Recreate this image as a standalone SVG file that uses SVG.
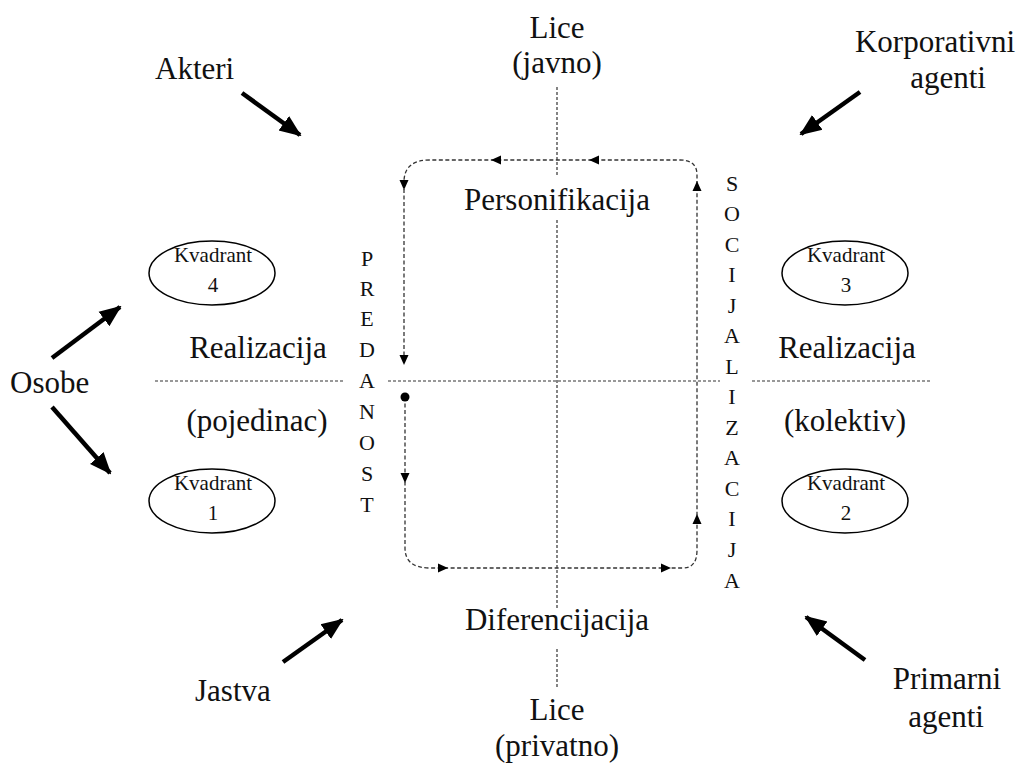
<svg xmlns="http://www.w3.org/2000/svg" xmlns:xlink="http://www.w3.org/1999/xlink" width="1027" height="769" viewBox="0 0 1027 769">
<style>
text{font-family:"Liberation Serif","Times New Roman",serif;fill:#111}
.big{font-size:31px}
.kv{font-size:21px}
.let{font-size:22px}
.c{text-anchor:middle}
.axis{stroke:#333;stroke-width:1.2;stroke-dasharray:3 2;fill:none}
.loop{stroke:#333;stroke-width:1.3;stroke-dasharray:4 2.5;fill:none}
.thick{stroke:#000;stroke-width:4.5;fill:none;marker-end:url(#bigArrow)}
.ell{fill:#fff;stroke:#000;stroke-width:1.5}
</style>
<defs>
<marker id="bigArrow" markerUnits="userSpaceOnUse" markerWidth="22" markerHeight="20" refX="20" refY="9" orient="auto" viewBox="0 0 22 18">
<path d="M0,0 L22,9 L0,18 Z" fill="#000"/>
</marker>
<path id="ah" d="M0,0 L-10,-4.5 L-10,4.5 Z" fill="#000"/>
</defs>
<rect width="1027" height="769" fill="#fff"/>

<g id="axes">
<line class="axis" x1="557" y1="87" x2="557" y2="175"/>
<line class="axis" x1="557" y1="220" x2="557" y2="610"/>
<line class="axis" x1="557" y1="649" x2="557" y2="688"/>
<line class="axis" x1="155" y1="381" x2="345" y2="381"/>
<line class="axis" x1="388" y1="381" x2="720" y2="381"/>
<line class="axis" x1="752" y1="381" x2="930" y2="381"/>
</g>

<g id="connectors">
<path class="loop" d="M697,185 L697,175 Q697,160 680,160 L430,160 Q404,160 404,182 L404,362"/>
<path class="loop" d="M405,397 L405,548 Q405,568 430,568 L683,568 Q697,568 697,550 L697,185"/>
<circle cx="405" cy="397" r="4.5" fill="#000"/>
<use xlink:href="#ah" transform="translate(404,190) rotate(90)"/>
<use xlink:href="#ah" transform="translate(404,365) rotate(90)"/>
<use xlink:href="#ah" transform="translate(405,483) rotate(90)"/>
<use xlink:href="#ah" transform="translate(491,160) rotate(180)"/>
<use xlink:href="#ah" transform="translate(589,160) rotate(180)"/>
<use xlink:href="#ah" transform="translate(448,568)"/>
<use xlink:href="#ah" transform="translate(671,568)"/>
<use xlink:href="#ah" transform="translate(697,181) rotate(-90)"/>
<use xlink:href="#ah" transform="translate(697,514) rotate(-90)"/>
<line class="thick" x1="242" y1="93" x2="300" y2="135"/>
<line class="thick" x1="860" y1="92" x2="801" y2="134"/>
<line class="thick" x1="52" y1="358" x2="120" y2="307"/>
<line class="thick" x1="52" y1="407" x2="110" y2="473"/>
<line class="thick" x1="283" y1="662" x2="342" y2="620"/>
<line class="thick" x1="865" y1="660" x2="806" y2="617"/>
</g>

<g id="lice-javno"><text class="big c" x="557" y="38">Lice</text><text class="big c" x="557" y="73">(javno)</text></g>
<g id="lice-privatno"><text class="big c" x="557" y="720">Lice</text><text class="big c" x="557" y="756">(privatno)</text></g>
<g id="akteri"><text class="big" x="155" y="79">Akteri</text></g>
<g id="korporativni"><text class="big c" x="935" y="52">Korporativni</text><text class="big c" x="948" y="88">agenti</text></g>
<g id="osobe"><text class="big" x="10" y="393">Osobe</text></g>
<g id="jastva"><text class="big" x="195" y="701">Jastva</text></g>
<g id="primarni"><text class="big c" x="947" y="689">Primarni</text><text class="big c" x="946" y="727">agenti</text></g>
<g id="personifikacija"><text class="big c" x="557" y="210">Personifikacija</text></g>
<g id="diferencijacija"><text class="big c" x="557" y="630">Diferencijacija</text></g>
<g id="realizacija-l"><text class="big c" x="258" y="358">Realizacija</text></g>
<g id="realizacija-r"><text class="big c" x="847" y="358">Realizacija</text></g>
<g id="pojedinac"><text class="big c" x="257" y="431">(pojedinac)</text></g>
<g id="kolektiv"><text class="big c" x="845" y="431">(kolektiv)</text></g>

<g id="kvadrant4"><ellipse class="ell" cx="212" cy="273" rx="63" ry="32"/><text class="kv c" x="213" y="262">Kvadrant</text><text class="kv c" x="213" y="292">4</text></g>
<g id="kvadrant3"><ellipse class="ell" cx="845" cy="273" rx="63" ry="32"/><text class="kv c" x="846" y="262">Kvadrant</text><text class="kv c" x="846" y="292">3</text></g>
<g id="kvadrant1"><ellipse class="ell" cx="212" cy="501" rx="63" ry="32"/><text class="kv c" x="213" y="490">Kvadrant</text><text class="kv c" x="213" y="520">1</text></g>
<g id="kvadrant2"><ellipse class="ell" cx="845" cy="501" rx="63" ry="32"/><text class="kv c" x="846" y="490">Kvadrant</text><text class="kv c" x="846" y="520">2</text></g>

<g id="predanost">
<text class="let c" x="367" y="266">P</text>
<text class="let c" x="367" y="296">R</text>
<text class="let c" x="367" y="326">E</text>
<text class="let c" x="367" y="357">D</text>
<text class="let c" x="367" y="388">A</text>
<text class="let c" x="367" y="419">N</text>
<text class="let c" x="367" y="450">O</text>
<text class="let c" x="367" y="481">S</text>
<text class="let c" x="367" y="512">T</text>
</g>
<g id="socijalizacija">
<text class="let c" x="732" y="191">S</text>
<text class="let c" x="732" y="221">O</text>
<text class="let c" x="732" y="252">C</text>
<text class="let c" x="732" y="282">I</text>
<text class="let c" x="732" y="313">J</text>
<text class="let c" x="732" y="343">A</text>
<text class="let c" x="732" y="374">L</text>
<text class="let c" x="732" y="404">I</text>
<text class="let c" x="732" y="435">Z</text>
<text class="let c" x="732" y="465">A</text>
<text class="let c" x="732" y="496">C</text>
<text class="let c" x="732" y="526">I</text>
<text class="let c" x="732" y="557">J</text>
<text class="let c" x="732" y="588">A</text>
</g>
</svg>
